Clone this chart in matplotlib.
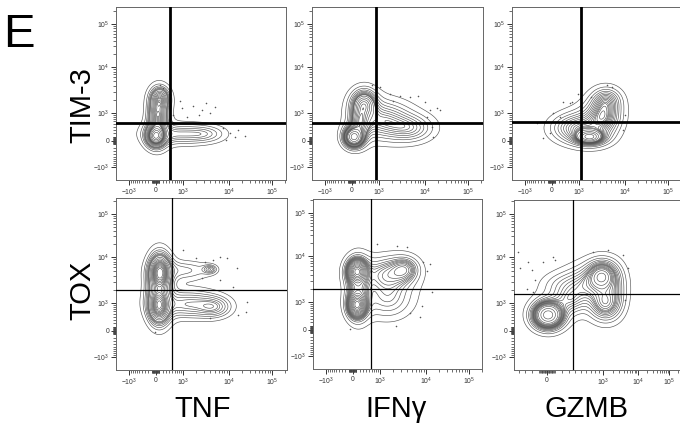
import numpy as np
import matplotlib
matplotlib.use("Agg")
import matplotlib.pyplot as plt

plt.rcParams['font.family'] = ['Liberation Sans', 'DejaVu Sans']
plt.rcParams['mathtext.default'] = 'regular'

# ---------------- values ----------------
col_labels = ['TNF', 'IFNγ', 'GZMB']
row_labels = ['TIM-3', 'TOX']

# quadrant gates (x, y) per panel, row by row
gate_x = [420, 850, 1100, 490, 570, 360]
gate_y = [530, 530, 570, 1920, 1920, 1570]

# sub-populations: centre in fluorescence units, spread (plot px), weight
tnf_tim3_x = [10, 66, 120, 740, 3160]
tnf_tim3_y = [120, 787, 2100, 175, 175]
tnf_tim3_sx = [4.5, 5, 5, 18, 12]
tnf_tim3_sy = [5, 11, 6, 6, 5]
tnf_tim3_w = [0.25, 0.30, 0.12, 0.18, 0.06]

ifng_tim3_x = [66, 230, 352, 1280, 4720]
ifng_tim3_y = [95, 566, 1570, 651, 352]
ifng_tim3_sx = [4.5, 5, 7, 16, 14]
ifng_tim3_sy = [4.5, 8, 8, 11, 8]
ifng_tim3_w = [0.22, 0.12, 0.18, 0.28, 0.14]

gzmb_tim3_x = [1735, 3500, 740, 4060, 1917]
gzmb_tim3_y = [95, 887, 352, 1920, 453]
gzmb_tim3_sx = [7, 9, 13, 8, 12]
gzmb_tim3_sy = [3.5, 10, 8, 7, 10]
gzmb_tim3_w = [0.22, 0.26, 0.22, 0.10, 0.15]

tnf_tox_x = [120, 95, 95, 1280, 4720, 1051, 3860]
tnf_tox_y = [4720, 835, 2120, 940, 787, 5210, 5480]
tnf_tox_sx = [5, 5, 6, 18, 10, 16, 4]
tnf_tox_sy = [8, 8, 16, 8, 6, 6, 2.5]
tnf_tox_w = [0.25, 0.20, 0.20, 0.18, 0.06, 0.06, 0.01]

ifng_tox_x = [120, 120, 150, 1490, 1490, 3500]
ifng_tox_y = [4720, 835, 1920, 4060, 1160, 5210]
ifng_tox_sx = [5, 4.5, 6, 14, 15, 8]
ifng_tox_sy = [6, 6, 15, 10, 12, 7]
ifng_tox_w = [0.20, 0.18, 0.15, 0.20, 0.17, 0.08]

gzmb_tox_x = [13, 975, 1140, 592, 199, 2350, 299]
gzmb_tox_y = [453, 4060, 940, 2460, 2590, 1920, 1162]
gzmb_tox_sx = [8, 9, 9, 15, 14, 7, 10]
gzmb_tox_sy = [7, 9, 10, 12, 8, 14, 8]
gzmb_tox_w = [0.33, 0.18, 0.14, 0.18, 0.05, 0.05, 0.07]

# outlier events
tnf_tim3_dx = [526, 938, 1649, 2720, 3863, 1220, 7390, 10550, 13800, 23600,
               2343, 120, 200, 4957, 835, 8590, 16200, 3160]
tnf_tim3_dy = [887, 1284, 1420, 1162, 1000, 787, 352, 205, 100, 120,
               887, 4060, 3500, 1360, 1917, 13, 290, 1730]
ifng_tim3_dx = [651, 1050, 1735, 2860, 4720, 7050, 10000, 13100, 22300,
                14600, 15400, 11100, 19500, 2020]
ifng_tim3_dy = [4060, 3680, 2720, 2460, 2230, 2460, 1735, 1162, 1162,
                384, 95, 787, 1284, 1917]
gzmb_tim3_dx = [40, 320, 566, 651, 938, 1917, 4060, 5210, 10000, 9050,
                -240, -438, 230, -40]
gzmb_tim3_dy = [1000, 1735, 1650, 1735, 2720, 2230, 4060, 3680, 887, 290,
                66, 526, 787, 205]
tnf_tox_dx = [2015, 3010, 4490, 6360, 9020, 15300, 25800, 24700, 16200,
              2720, 6360, 12400, -10, 3863, 1000]
tnf_tox_dy = [9500, 7800, 8590, 10000, 9500, 5760, 1051, 566, 453,
              3500, 3160, 2230, -40, 352, 14200]
ifng_tox_dx = [835, 8590, 12400, 10550, 13800, 8190, 7390, 4490, 2343,
               -70, 3863, 2460]
ifng_tox_dy = [19000, 7390, 6690, 4720, 1650, 787, 352, 488, 95,
               13, 16200, 17000]
gzmb_tox_dx = [-410, -377, -255, -199, -157, -52, 78, 104, -270, -185,
               744, 1390, 3730, 5180, 4250]
gzmb_tox_dy = [13070, 5760, 7800, 5210, 3160, 7800, 10000, 8590, 2120, 1735,
               13070, 14550, 11100, 5760, 1162]

# ---------------- biexponential-like axis scales ----------------
C = 500.0
std_ticks = [-1e4, -1e3, 0, 1e3, 1e4, 1e5, 1e6]
std_px = [-33, 13, 39.5, 67, 113, 156, 199]
gzmb_ticks = [-1e4, -1e3, 0, 1e3, 1e4, 1e5, 1e6]
gzmb_px = [-58, -23, 33, 89, 124, 155, 186]


def make_scale(ticks, px):
    a = np.arcsinh(np.array(ticks) / C)
    p = np.array(px, dtype=float)

    def fwd(v):
        return np.interp(np.arcsinh(np.asarray(v, dtype=float) / C), a, p)

    def inv(q):
        return C * np.sinh(np.interp(np.asarray(q, dtype=float), p, a))
    return fwd, inv


std_scale = make_scale(std_ticks, std_px)
gzmb_scale = make_scale(gzmb_ticks, gzmb_px)

panels = [
    (tnf_tim3_x, tnf_tim3_y, tnf_tim3_sx, tnf_tim3_sy, tnf_tim3_w, tnf_tim3_dx, tnf_tim3_dy),
    (ifng_tim3_x, ifng_tim3_y, ifng_tim3_sx, ifng_tim3_sy, ifng_tim3_w, ifng_tim3_dx, ifng_tim3_dy),
    (gzmb_tim3_x, gzmb_tim3_y, gzmb_tim3_sx, gzmb_tim3_sy, gzmb_tim3_w, gzmb_tim3_dx, gzmb_tim3_dy),
    (tnf_tox_x, tnf_tox_y, tnf_tox_sx, tnf_tox_sy, tnf_tox_w, tnf_tox_dx, tnf_tox_dy),
    (ifng_tox_x, ifng_tox_y, ifng_tox_sx, ifng_tox_sy, ifng_tox_w, ifng_tox_dx, ifng_tox_dy),
    (gzmb_tox_x, gzmb_tox_y, gzmb_tox_sx, gzmb_tox_sy, gzmb_tox_w, gzmb_tox_dx, gzmb_tox_dy),
]
x_scales = [std_scale, std_scale, std_scale, std_scale, std_scale, gzmb_scale]

# panel boxes in pixels: left, top, width, height
boxes = [(116, 7, 170, 173), (312, 7, 171, 173), (512, 7, 171, 173),
         (116, 198, 171, 172), (313, 199, 169, 170), (514, 200, 170, 170)]

W, H = 680, 424
fig = plt.figure(figsize=(W / 100, H / 100), dpi=100)

majors = [-1e3, 0, 1e3, 1e4, 1e5]
minors = [s * m * 10 ** k for s in (-1, 1) for k in (1, 2, 3, 4, 5)
          for m in range(1, 10) if s * m * 10 ** k not in majors]


def tick_text(v):
    if v == 0:
        return '0'
    e = int(round(np.log10(abs(v))))
    return ('$-10^{%d}$' if v < 0 else '$10^{%d}$') % e


def style_axis(ax, which, inv, length):
    lo, hi = float(inv(0)), float(inv(length))
    maj = [v for v in majors if lo < v < hi]
    mnr = [v for v in minors if lo < v < hi]
    if which == 'x':
        ax.set_xlim(lo, hi)
        ax.set_xticks(maj)
        ax.set_xticklabels([tick_text(v) for v in maj])
        ax.set_xticks(mnr, minor=True)
    else:
        ax.set_ylim(lo, hi)
        ax.set_yticks(maj)
        ax.set_yticklabels([tick_text(v) for v in maj])
        ax.set_yticks(mnr, minor=True)


def blob(GX, GY, x0, y0, s1, s2):
    # core plus a wider shoulder, so outer contours spread like real events
    out = 0
    for f, k in ((0.65, 1.0), (0.35, 1.7)):
        a, b = s1 * k, s2 * k
        out = out + f / (a * b) * np.exp(-0.5 * (((GX - x0) / a) ** 2 + ((GY - y0) / b) ** 2))
    return out


fracs = np.arange(0.04, 0.97, 0.05)

for i, (box, pdata) in enumerate(zip(boxes, panels)):
    left, top, bw, bh = box
    ax = fig.add_axes([left / W, 1 - (top + bh) / H, bw / W, bh / H])
    fx, ix = x_scales[i]
    fy, iy = std_scale
    ax.set_xscale('function', functions=(fx, ix))
    ax.set_yscale('function', functions=(fy, iy))
    style_axis(ax, 'x', ix, bw)
    style_axis(ax, 'y', iy, bh)

    cx, cy, sx, sy, wt, dx, dy = pdata
    gx = np.linspace(0, bw, 360)
    gy = np.linspace(0, bh, 360)
    GX, GY = np.meshgrid(gx, gy)
    Z = np.zeros_like(GX)
    for x0, y0, s1, s2, w in zip(fx(cx), fy(cy), sx, sy, wt):
        Z += w * blob(GX, GY, x0, y0, s1, s2)
    z = np.sort(Z.ravel())[::-1]
    cum = np.cumsum(z)
    cum /= cum[-1]
    levels = np.unique([z[np.searchsorted(cum, f)] for f in fracs])
    ax.contour(ix(GX), iy(GY), Z, levels=levels, colors='#555555',
               linewidths=0.45, zorder=2)
    ax.scatter(dx, dy, s=1.3, c='#555555', marker='o', linewidths=0, zorder=2)

    lw_gate = 2.0 if i < 3 else 0.9
    ax.axvline(gate_x[i], color='black', lw=lw_gate, zorder=3)
    ax.axhline(gate_y[i], color='black', lw=lw_gate, zorder=3)

    for sp in ax.spines.values():
        sp.set_color('#666666')
        sp.set_linewidth(0.7)
    ax.tick_params(which='major', length=3.4, width=0.7, color='#333333',
                   labelsize=4.9, labelcolor='#333333', pad=1.6)
    ax.tick_params(which='minor', length=2.2, width=0.55, color='#444444')

fig.text(3 / W, 1 - 47 / H, 'E', fontsize=34, va='baseline', ha='left')
fig.text(82 / W, 1 - 105 / H, row_labels[0], fontsize=21, rotation=90,
         ha='center', va='center')
fig.text(82 / W, 1 - 290 / H, row_labels[1], fontsize=21, rotation=90,
         ha='center', va='center')
for xc, lab in zip([203, 396, 587], col_labels):
    fig.text(xc / W, 1 - 417 / H, lab, fontsize=21, ha='center', va='baseline')

fig.savefig('out.png', dpi=100, facecolor='white')
